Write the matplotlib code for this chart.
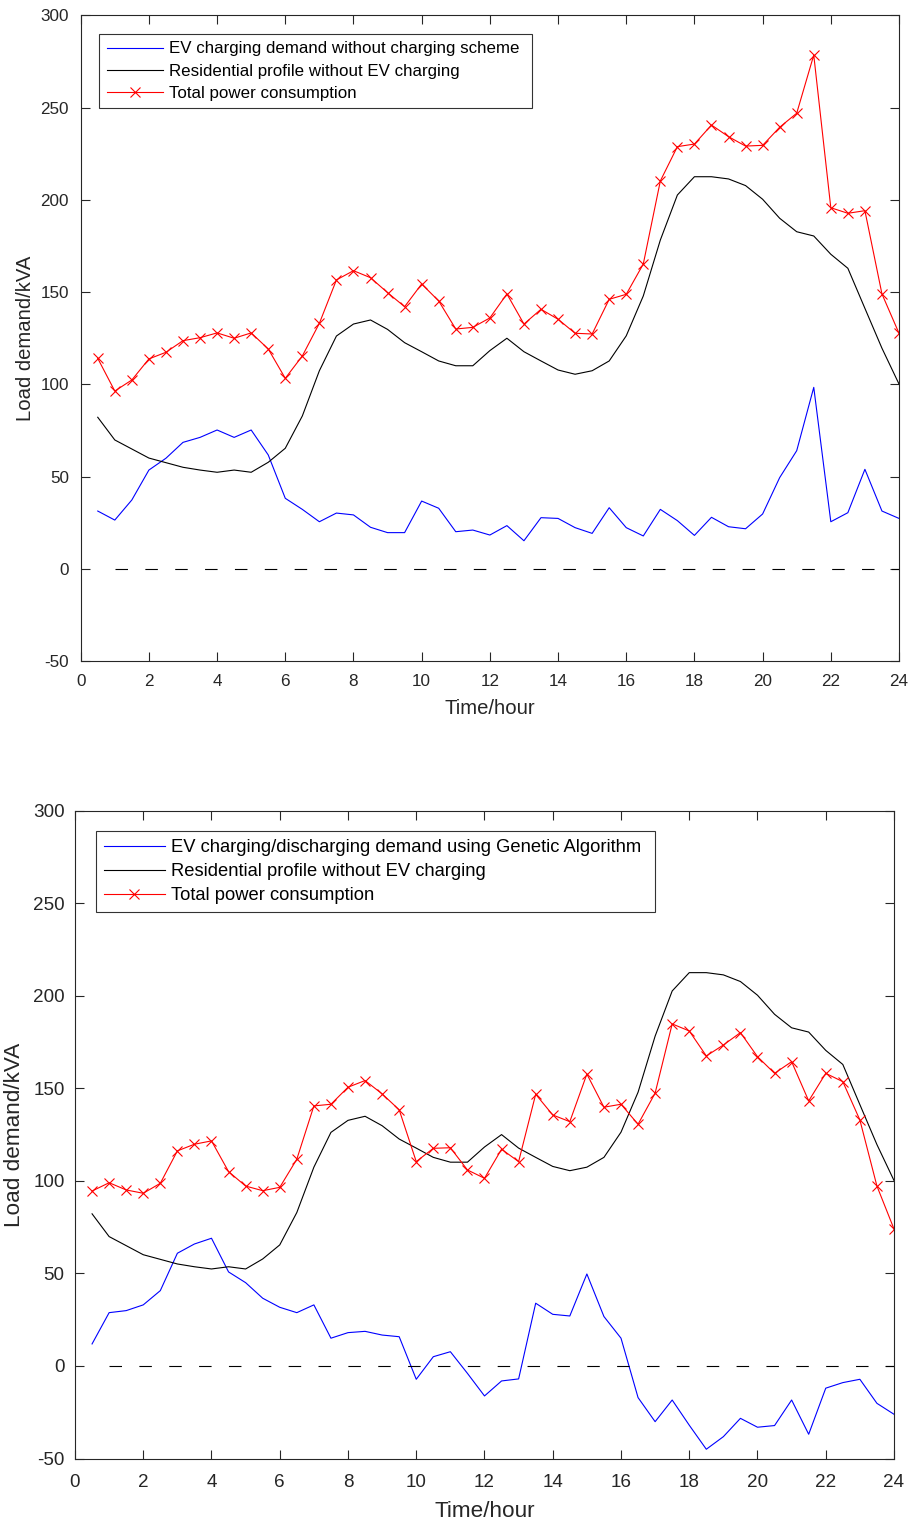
import matplotlib
matplotlib.use("Agg")
import matplotlib.pyplot as plt
import numpy as np

plt.rcParams['font.family'] = ['Liberation Sans', 'DejaVu Sans']
plt.rcParams['lines.scale_dashes'] = False
plt.rcParams['axes.unicode_minus'] = False

# Time axis (half-hour steps)
hours = np.arange(1, 49) * 0.5

# Residential profile without EV charging (same in both panels)
residential = [82.2, 69.9, 65.0, 60.1, 57.6, 55.1, 53.6, 52.4, 53.6, 52.4, 57.8, 65.4,
               82.9, 107.4, 126.2, 132.7, 134.9, 129.8, 122.6, 117.7, 112.7, 110.1, 110.1, 118.3,
               125.0, 117.7, 112.7, 107.8, 105.5, 107.4, 112.7, 126.3, 147.9, 178.2, 202.6, 212.5,
               212.5, 211.3, 207.7, 200.3, 190.0, 182.7, 180.4, 170.5, 162.9, 141.2, 119.6, 100.2]

# Top panel: EV demand without charging scheme
ev_uncontrolled = [31.4, 26.5, 37.4, 53.6, 60.0, 68.6, 71.3, 75.3, 71.3, 75.3, 61.8, 38.3,
                   32.3, 25.6, 30.3, 29.3, 22.6, 19.7, 19.7, 36.8, 32.9, 20.2, 21.1, 18.4,
                   23.5, 15.3, 27.8, 27.4, 22.4, 19.3, 33.2, 22.4, 17.9, 32.3, 26.2, 18.2,
                   28.0, 22.9, 21.8, 29.8, 49.5, 64.1, 98.4, 25.6, 30.5, 54.0, 31.4, 27.4]
total_uncontrolled = [114.1, 96.4, 102.4, 113.8, 117.4, 123.7, 125.3, 127.9, 125.0, 127.9, 119.2, 103.3,
                      115.4, 133.1, 156.6, 161.6, 157.8, 149.7, 142.1, 154.4, 145.2, 130.0, 130.9, 136.0,
                      149.0, 132.7, 140.7, 135.3, 127.7, 127.3, 146.1, 148.8, 165.2, 210.2, 228.8, 230.2,
                      240.5, 234.2, 229.1, 229.5, 239.3, 246.9, 278.4, 195.7, 192.7, 194.1, 149.0, 127.7]

# Bottom panel: EV charging/discharging with Genetic Algorithm
ev_ga = [11.9, 28.8, 29.9, 33.0, 40.7, 60.9, 65.9, 69.0, 50.8, 45.0, 36.6, 31.7,
         28.8, 33.0, 15.0, 18.0, 18.7, 16.7, 15.8, -7.2, 5.0, 7.7, -4.0, -16.2,
         -8.1, -7.0, 33.9, 27.9, 27.0, 49.7, 26.7, 15.0, -17.1, -30.1, -18.4, -32.0,
         -45.0, -38.2, -28.3, -33.1, -32.2, -18.4, -36.9, -12.0, -9.0, -7.2, -20.2, -26.1]
total_ga = [94.5, 99.0, 95.1, 93.3, 98.7, 116.2, 119.8, 121.6, 105.0, 97.2, 94.7, 96.5,
            111.7, 140.5, 141.4, 150.6, 154.2, 147.0, 138.4, 110.4, 117.6, 117.9, 105.9, 101.4,
            117.1, 110.4, 146.8, 135.6, 132.0, 157.7, 139.8, 141.4, 130.6, 147.4, 184.8, 181.0,
            167.5, 173.4, 180.1, 167.1, 158.1, 164.4, 143.2, 158.1, 153.6, 132.9, 97.2, 74.0]

zero_x = [1, 24]
zero_y = [0, 0]

xticks = list(range(0, 25, 2))
yticks = list(range(-50, 301, 50))

labels_top = ['EV charging demand without charging scheme ',
              'Residential profile without EV charging',
              'Total power consumption']
labels_bot = ['EV charging/discharging demand using Genetic Algorithm ',
              'Residential profile without EV charging',
              'Total power consumption']

fig = plt.figure(figsize=(9.12, 15.25), dpi=100)
W, H = 912, 1525

def make_ax(l, r, t, b):
    return fig.add_axes([l / W, 1 - b / H, (r - l) / W, (b - t) / H])

ax1 = make_ax(80.7, 899, 15.2, 661.3)
ax2 = make_ax(75, 894, 810.7, 1458.5)

axc = '#262626'
panels = [
    dict(ax=ax1, ev=ev_uncontrolled, tot=total_uncontrolled, labs=labels_top, anchor=(99.3, 34),
         tick_fs=12.3, label_fs=14.6, leg_fs=12.2, xlp=7.0, ylp=3.9, xpad=9.5, ypad=8.5,
         hl=3.34, htp=0.35, bp=0.44, ls=0.42),
    dict(ax=ax2, ev=ev_ga, tot=total_ga, labs=labels_bot, anchor=(95.7, 831),
         tick_fs=13.6, label_fs=16.2, leg_fs=13.2, xlp=7.3, ylp=5.8, xpad=11.0, ypad=7.5,
         hl=3.31, htp=0.37, bp=0.45, ls=0.38),
]
for p in panels:
    ax = p['ax']
    l1, = ax.plot(hours, p['ev'], color='#0000ff', lw=0.8)
    l2, = ax.plot(hours, residential, color='black', lw=0.8)
    l3, = ax.plot(hours, p['tot'], color='#ff0000', lw=0.8, marker='x', ms=7, mew=0.8)
    ax.plot(zero_x, zero_y, color='black', lw=0.8, dashes=(9, 12.5))
    ax.set_xlim(0, 24)
    ax.set_ylim(-50, 300)
    ax.set_xticks(xticks)
    ax.set_yticks(yticks)
    ax.tick_params(direction='in', top=True, right=True, length=6.5, width=0.8,
                   labelsize=p['tick_fs'], colors=axc)
    ax.tick_params(axis='x', pad=p['xpad'])
    ax.tick_params(axis='y', pad=p['ypad'])
    for s in ax.spines.values():
        s.set_color(axc)
        s.set_linewidth(0.8)
    ax.set_xlabel('Time/hour', fontsize=p['label_fs'], color=axc, labelpad=p['xlp'])
    ax.set_ylabel('Load demand/kVA', fontsize=p['label_fs'], color=axc, labelpad=p['ylp'])
    lx, ly = p['anchor']
    leg = ax.legend([l1, l2, l3], p['labs'], loc='upper left',
                    bbox_to_anchor=(lx / W, 1 - ly / H), bbox_transform=fig.transFigure,
                    borderaxespad=0, fontsize=p['leg_fs'], frameon=True, fancybox=False,
                    edgecolor='black', handlelength=p['hl'], handletextpad=p['htp'],
                    labelspacing=p['ls'], borderpad=p['bp'])
    leg.get_frame().set_linewidth(0.8)

fig.savefig('out.png', dpi=100)
